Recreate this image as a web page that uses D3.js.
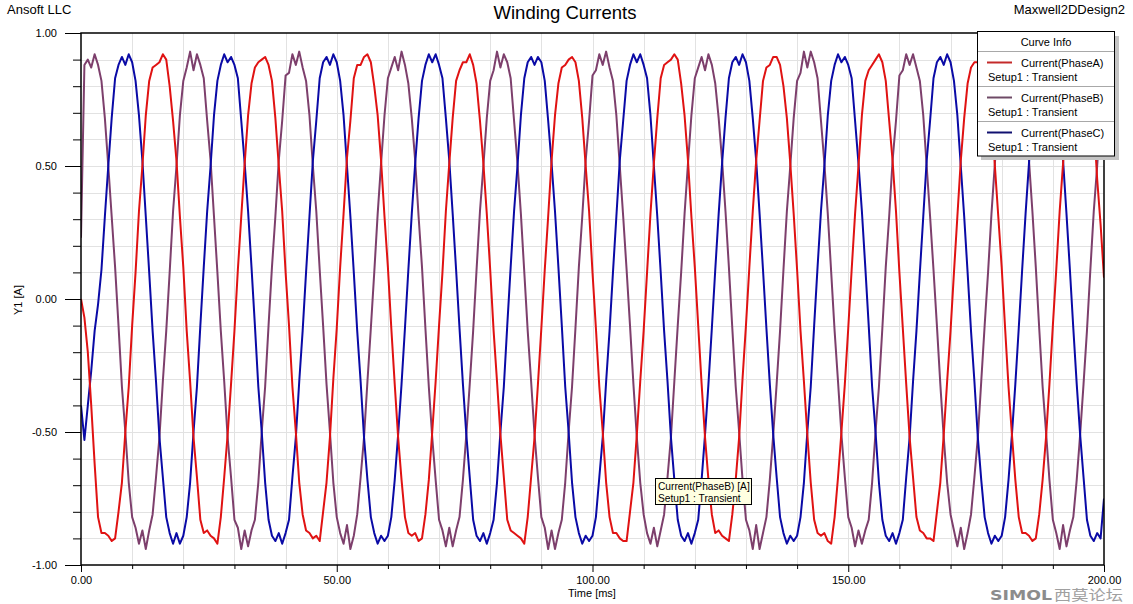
<!DOCTYPE html>
<html>
<head>
<meta charset="utf-8">
<script src="https://cdn.jsdelivr.net/npm/d3@7"></script>
<style>
  html, body { margin: 0; padding: 0; background: #fff; }
  svg { display: block; font-family: "Liberation Sans", Arial, sans-serif; }
</style>
</head>
<body>
<svg id="chart" width="1133" height="604"></svg>
<script>
// ---------------- DATA ----------------
const chartTitle = "Winding Currents";
const xDomainMs = [0, 200];
const yDomainA = [-1, 1];
const sampleCount = 301;            // samples from 0 to 200 ms
const xMajorTicks = [0, 50, 100, 150, 200];
const xTickLabels = ["0.00", "50.00", "100.00", "150.00", "200.00"];
const xMinorTicks = [10, 20, 30, 40, 60, 70, 80, 90, 110, 120, 130, 140, 160, 170, 180, 190];
const yMajorTicks = [-1, -0.5, 0, 0.5, 1];
const yTickLabels = ["-1.00", "-0.50", "0.00", "0.50", "1.00"];
const yMinorTicks = [-0.9, -0.8, -0.7, -0.6, -0.4, -0.3, -0.2, -0.1, 0.1, 0.2, 0.3, 0.4, 0.6, 0.7, 0.8, 0.9];
const seriesNames = ["Current(PhaseA)", "Current(PhaseB)", "Current(PhaseC)"];
const seriesSetup = ["Setup1 : Transient", "Setup1 : Transient", "Setup1 : Transient"];

const phaseA = [
  0.00, -0.07, -0.20, -0.40, -0.62, -0.82, -0.88, -0.88, -0.89, -0.91, -0.90, -0.80, -0.69, -0.50, -0.33, -0.10, 0.10, 0.33, 0.50, 0.69, 0.82, 0.87, 0.88, 0.89, 0.92, 0.90, 0.80, 0.67, 0.52, 0.31,
  0.12, -0.12, -0.31, -0.52, -0.67, -0.83, -0.88, -0.87, -0.89, -0.90, -0.92, -0.82, -0.67, -0.51, -0.32, -0.12, 0.11, 0.31, 0.51, 0.69, 0.81, 0.87, 0.89, 0.90, 0.91, 0.88, 0.82, 0.68, 0.50, 0.33,
  0.10, -0.10, -0.33, -0.50, -0.69, -0.81, -0.87, -0.88, -0.90, -0.89, -0.91, -0.80, -0.69, -0.52, -0.30, -0.11, 0.12, 0.32, 0.53, 0.67, 0.83, 0.88, 0.88, 0.91, 0.92, 0.89, 0.80, 0.69, 0.52, 0.31,
  0.12, -0.11, -0.32, -0.52, -0.68, -0.82, -0.88, -0.89, -0.88, -0.91, -0.90, -0.81, -0.68, -0.50, -0.31, -0.10, 0.10, 0.33, 0.51, 0.68, 0.82, 0.86, 0.89, 0.89, 0.92, 0.88, 0.81, 0.67, 0.51, 0.32,
  0.11, -0.12, -0.31, -0.51, -0.67, -0.83, -0.87, -0.88, -0.89, -0.90, -0.92, -0.82, -0.67, -0.52, -0.32, -0.11, 0.11, 0.31, 0.52, 0.69, 0.81, 0.87, 0.88, 0.90, 0.91, 0.89, 0.82, 0.68, 0.50, 0.33,
  0.10, -0.11, -0.33, -0.50, -0.69, -0.82, -0.88, -0.88, -0.90, -0.91, -0.91, -0.80, -0.69, -0.51, -0.31, -0.12, 0.10, 0.32, 0.51, 0.68, 0.83, 0.88, 0.89, 0.90, 0.92, 0.90, 0.81, 0.69, 0.52, 0.31,
  0.12, -0.10, -0.32, -0.52, -0.68, -0.81, -0.88, -0.87, -0.89, -0.90, -0.91, -0.81, -0.68, -0.52, -0.30, -0.10, 0.12, 0.33, 0.52, 0.67, 0.82, 0.87, 0.88, 0.91, 0.91, 0.88, 0.80, 0.68, 0.51, 0.32,
  0.11, -0.12, -0.31, -0.51, -0.69, -0.83, -0.88, -0.89, -0.88, -0.91, -0.92, -0.82, -0.67, -0.50, -0.32, -0.11, 0.11, 0.32, 0.50, 0.69, 0.82, 0.86, 0.88, 0.90, 0.92, 0.89, 0.82, 0.67, 0.52, 0.33,
  0.10, -0.11, -0.32, -0.52, -0.67, -0.82, -0.87, -0.88, -0.90, -0.90, -0.91, -0.80, -0.69, -0.51, -0.31, -0.12, 0.10, 0.31, 0.52, 0.68, 0.81, 0.87, 0.89, 0.89, 0.92, 0.88, 0.81, 0.68, 0.50, 0.31,
  0.12, -0.11, -0.33, -0.51, -0.68, -0.82, -0.88, -0.88, -0.89, -0.91, -0.90, -0.81, -0.68, -0.52, -0.32, -0.10, 0.11, 0.33, 0.51, 0.69, 0.83, 0.88, 0.88, 0.90, 0.91, 0.89, 0.80, 0.67, 0.45, 0.28,
  0.08
];

const phaseB = [
  0.23, 0.88, 0.90, 0.87, 0.92, 0.88, 0.82, 0.68, 0.50, 0.31, 0.12, -0.10, -0.33, -0.50, -0.69, -0.82, -0.86, -0.92, -0.87, -0.94, -0.87, -0.81, -0.67, -0.52, -0.31, -0.12, 0.10, 0.33, 0.50, 0.69,
  0.82, 0.87, 0.93, 0.86, 0.92, 0.88, 0.83, 0.67, 0.52, 0.31, 0.10, -0.12, -0.31, -0.52, -0.67, -0.83, -0.86, -0.94, -0.87, -0.93, -0.87, -0.83, -0.69, -0.50, -0.33, -0.10, 0.12, 0.31, 0.52, 0.67,
  0.84, 0.85, 0.92, 0.88, 0.93, 0.87, 0.82, 0.69, 0.50, 0.33, 0.11, -0.10, -0.32, -0.50, -0.69, -0.82, -0.88, -0.92, -0.85, -0.94, -0.89, -0.81, -0.67, -0.52, -0.31, -0.11, 0.10, 0.32, 0.51, 0.69,
  0.83, 0.87, 0.91, 0.86, 0.93, 0.88, 0.81, 0.68, 0.52, 0.31, 0.12, -0.11, -0.33, -0.52, -0.68, -0.83, -0.87, -0.93, -0.86, -0.93, -0.87, -0.82, -0.68, -0.51, -0.32, -0.12, 0.11, 0.33, 0.50, 0.68,
  0.82, 0.86, 0.93, 0.87, 0.92, 0.89, 0.83, 0.67, 0.51, 0.32, 0.10, -0.12, -0.31, -0.51, -0.67, -0.82, -0.86, -0.94, -0.87, -0.94, -0.88, -0.83, -0.69, -0.50, -0.33, -0.11, 0.12, 0.31, 0.52, 0.67,
  0.84, 0.86, 0.92, 0.88, 0.93, 0.87, 0.82, 0.69, 0.50, 0.31, 0.11, -0.10, -0.32, -0.52, -0.69, -0.81, -0.88, -0.92, -0.86, -0.93, -0.87, -0.81, -0.67, -0.52, -0.31, -0.10, 0.10, 0.32, 0.51, 0.69,
  0.83, 0.87, 0.91, 0.86, 0.92, 0.88, 0.81, 0.68, 0.52, 0.33, 0.12, -0.11, -0.33, -0.50, -0.68, -0.83, -0.87, -0.94, -0.85, -0.94, -0.88, -0.82, -0.68, -0.51, -0.32, -0.12, 0.11, 0.33, 0.50, 0.68,
  0.82, 0.85, 0.93, 0.87, 0.93, 0.89, 0.83, 0.67, 0.51, 0.32, 0.10, -0.12, -0.31, -0.51, -0.67, -0.82, -0.86, -0.93, -0.87, -0.92, -0.87, -0.83, -0.69, -0.50, -0.33, -0.11, 0.12, 0.31, 0.52, 0.67,
  0.84, 0.86, 0.92, 0.88, 0.92, 0.87, 0.82, 0.69, 0.50, 0.31, 0.11, -0.10, -0.32, -0.52, -0.69, -0.81, -0.87, -0.93, -0.86, -0.94, -0.88, -0.81, -0.67, -0.52, -0.31, -0.10, 0.10, 0.32, 0.51, 0.69,
  0.83, 0.87, 0.92, 0.86, 0.93, 0.88, 0.81, 0.68, 0.52, 0.33, 0.12, -0.11, -0.33, -0.50, -0.68, -0.83, -0.88, -0.94, -0.85, -0.93, -0.87, -0.82, -0.68, -0.51, -0.32, -0.12, 0.11, 0.33, 0.50, 0.68,
  0.82
];

const phaseC = [
  -0.40, -0.53, -0.40, -0.27, -0.12, -0.02, 0.11, 0.31, 0.50, 0.68, 0.83, 0.88, 0.91, 0.88, 0.92, 0.89, 0.82, 0.69, 0.52, 0.31, 0.10, -0.12, -0.31, -0.52, -0.67, -0.82, -0.88, -0.92, -0.88, -0.92,
  -0.89, -0.82, -0.69, -0.50, -0.33, -0.10, 0.12, 0.33, 0.50, 0.69, 0.82, 0.88, 0.92, 0.89, 0.91, 0.88, 0.83, 0.67, 0.51, 0.33, 0.12, -0.10, -0.33, -0.50, -0.69, -0.83, -0.89, -0.91, -0.88, -0.92,
  -0.88, -0.83, -0.67, -0.52, -0.31, -0.12, 0.10, 0.31, 0.52, 0.67, 0.83, 0.89, 0.91, 0.88, 0.92, 0.89, 0.82, 0.69, 0.50, 0.31, 0.10, -0.12, -0.31, -0.52, -0.68, -0.82, -0.88, -0.92, -0.89, -0.91,
  -0.89, -0.82, -0.68, -0.51, -0.32, -0.11, 0.11, 0.32, 0.51, 0.68, 0.82, 0.88, 0.92, 0.89, 0.92, 0.88, 0.83, 0.68, 0.52, 0.32, 0.11, -0.11, -0.32, -0.51, -0.67, -0.83, -0.89, -0.91, -0.88, -0.92,
  -0.88, -0.83, -0.69, -0.50, -0.33, -0.10, 0.12, 0.33, 0.50, 0.69, 0.83, 0.89, 0.91, 0.88, 0.91, 0.89, 0.82, 0.67, 0.51, 0.33, 0.12, -0.10, -0.33, -0.50, -0.69, -0.82, -0.88, -0.92, -0.89, -0.91,
  -0.89, -0.82, -0.67, -0.52, -0.31, -0.12, 0.10, 0.31, 0.52, 0.67, 0.82, 0.88, 0.92, 0.89, 0.92, 0.88, 0.83, 0.69, 0.50, 0.31, 0.10, -0.12, -0.31, -0.52, -0.68, -0.83, -0.89, -0.91, -0.88, -0.92,
  -0.88, -0.83, -0.68, -0.51, -0.32, -0.11, 0.11, 0.32, 0.51, 0.68, 0.83, 0.89, 0.91, 0.88, 0.92, 0.89, 0.82, 0.68, 0.52, 0.32, 0.11, -0.11, -0.32, -0.51, -0.67, -0.82, -0.88, -0.92, -0.89, -0.91,
  -0.89, -0.82, -0.69, -0.50, -0.33, -0.10, 0.12, 0.33, 0.50, 0.69, 0.82, 0.88, 0.92, 0.89, 0.91, 0.88, 0.83, 0.67, 0.51, 0.33, 0.12, -0.10, -0.33, -0.50, -0.69, -0.83, -0.89, -0.91, -0.88, -0.92,
  -0.88, -0.83, -0.67, -0.52, -0.31, -0.12, 0.10, 0.31, 0.52, 0.67, 0.83, 0.89, 0.91, 0.88, 0.92, 0.89, 0.82, 0.69, 0.50, 0.31, 0.10, -0.12, -0.31, -0.52, -0.68, -0.82, -0.88, -0.92, -0.89, -0.91,
  -0.89, -0.82, -0.68, -0.51, -0.32, -0.11, 0.11, 0.32, 0.51, 0.68, 0.82, 0.88, 0.92, 0.89, 0.92, 0.88, 0.83, 0.68, 0.52, 0.32, 0.11, -0.11, -0.32, -0.51, -0.67, -0.83, -0.89, -0.91, -0.88, -0.90,
  -0.75
];

// ---------------- STYLE ----------------
const seriesColors = ["#e01212", "#7d3f6c", "#0a0aa6"];
const legendLineColors = ["#c42a2a", "#6e4a66", "#101070"];
const W = 1133, H = 604;
const plot = { left: 81, right: 1104, top: 33, bottom: 565 };
const font = "'Liberation Sans', Arial, sans-serif";

const svg = d3.select("#chart");
const x = d3.scaleLinear().domain(xDomainMs).range([plot.left, plot.right]);
const y = d3.scaleLinear().domain(yDomainA).range([plot.bottom, plot.top]);
const sampleIndex = d3.scaleLinear().domain([0, sampleCount - 1]).range(xDomainMs);

svg.append("rect").attr("width", W).attr("height", H).attr("fill", "#fff");

// grid
const grid = svg.append("g").attr("stroke", "#e2e2e2").attr("stroke-width", 1).attr("shape-rendering", "crispEdges");
grid.selectAll(".gx").data(xMinorTicks.concat(xMajorTicks.slice(1, -1))).join("line")
  .attr("x1", d => Math.round(x(d)) + 0.5).attr("x2", d => Math.round(x(d)) + 0.5)
  .attr("y1", plot.top).attr("y2", plot.bottom);
grid.selectAll(".gy").data(yMinorTicks.concat([-0.5, 0, 0.5])).join("line")
  .attr("y1", d => Math.round(y(d)) + 0.5).attr("y2", d => Math.round(y(d)) + 0.5)
  .attr("x1", plot.left).attr("x2", plot.right);

// curves
svg.append("clipPath").attr("id", "clip").append("rect")
  .attr("x", plot.left).attr("y", plot.top)
  .attr("width", plot.right - plot.left).attr("height", plot.bottom - plot.top);
const line = d3.line().x((d, i) => x(sampleIndex(i))).y(d => y(d));
const curves = svg.append("g").attr("clip-path", "url(#clip)");
const allSeries = [phaseA, phaseB, phaseC];
[1, 2, 0].forEach(k => {
  curves.append("path").datum(allSeries[k])
    .attr("d", line).attr("fill", "none")
    .attr("stroke", seriesColors[k]).attr("stroke-width", 2)
    .attr("stroke-linejoin", "round");
});

// axes
const axisStyle = g => {
  g.selectAll("path.domain").remove();
  g.selectAll("line").attr("stroke", "#000").attr("stroke-width", 1);
  g.selectAll("text").attr("font-family", font).attr("font-size", 11).attr("fill", "#000");
};
svg.append("g").attr("transform", `translate(${plot.left},0)`)
  .call(d3.axisLeft(y).tickValues(yMajorTicks).tickSize(16).tickPadding(8)
    .tickFormat((d, i) => yTickLabels[i])).call(axisStyle);
svg.append("g").attr("transform", `translate(${plot.left},0)`)
  .call(d3.axisLeft(y).tickValues(yMinorTicks).tickSize(8).tickFormat("")).call(axisStyle);
svg.append("g").attr("transform", `translate(0,${plot.bottom})`)
  .call(d3.axisBottom(x).tickValues(xMajorTicks).tickSize(7).tickPadding(4)
    .tickFormat((d, i) => xTickLabels[i])).call(axisStyle);
svg.append("g").attr("transform", `translate(0,${plot.bottom})`)
  .call(d3.axisBottom(x).tickValues(xMinorTicks).tickSize(4).tickFormat("")).call(axisStyle);

// frame
svg.append("rect").attr("x", plot.left).attr("y", plot.top)
  .attr("width", plot.right - plot.left).attr("height", plot.bottom - plot.top)
  .attr("fill", "none").attr("stroke", "#000").attr("stroke-width", 1.5);

// titles
svg.append("text").attr("x", 7).attr("y", 14).attr("font-family", font).attr("font-size", 13).text("Ansoft LLC");
svg.append("text").attr("x", 1125).attr("y", 14).attr("text-anchor", "end").attr("font-family", font).attr("font-size", 13).text("Maxwell2DDesign2");
svg.append("text").attr("x", 565).attr("y", 19).attr("text-anchor", "middle").attr("font-family", font).attr("font-size", 18.5).text(chartTitle);
svg.append("text").attr("x", 592).attr("y", 597).attr("text-anchor", "middle").attr("font-family", font).attr("font-size", 11).text("Time [ms]");
svg.append("text").attr("transform", "translate(22,300) rotate(-90)").attr("text-anchor", "middle").attr("font-family", font).attr("font-size", 11).text("Y1 [A]");

// legend
const lg = svg.append("g");
lg.append("rect").attr("x", 981).attr("y", 36).attr("width", 138).attr("height", 124).attr("fill", "#c4c4c4");
lg.append("rect").attr("x", 977.5).attr("y", 31.5).attr("width", 137).attr("height", 124.5).attr("fill", "#fff").attr("stroke", "#000").attr("stroke-width", 1);
lg.append("text").attr("x", 1046).attr("y", 46).attr("text-anchor", "middle").attr("font-family", font).attr("font-size", 11).text("Curve Info");
seriesNames.forEach((name, i) => {
  const top = 51.5 + i * 35;
  lg.append("line").attr("x1", 978).attr("x2", 1114).attr("y1", top).attr("y2", top).attr("stroke", "#a8a8a8");
  lg.append("line").attr("x1", 987).attr("x2", 1012).attr("y1", top + 11).attr("y2", top + 11)
    .attr("stroke", legendLineColors[i]).attr("stroke-width", 2);
  lg.append("text").attr("x", 1021).attr("y", top + 15).attr("font-family", font).attr("font-size", 11).text(name);
  lg.append("text").attr("x", 988).attr("y", top + 29).attr("font-family", font).attr("font-size", 11).text(seriesSetup[i]);
});

// tooltip annotation
const tip = svg.append("g");
tip.append("rect").attr("x", 655.5).attr("y", 478.5).attr("width", 96).attr("height", 26).attr("fill", "#ffffe1").attr("stroke", "#000");
tip.append("text").attr("x", 658).attr("y", 489.5).attr("font-family", font).attr("font-size", 10.2).text("Current(PhaseB) [A]");
tip.append("text").attr("x", 658).attr("y", 502).attr("font-family", font).attr("font-size", 10.2).text(seriesSetup[1]);

// watermark
svg.append("text").attr("x", 990).attr("y", 600).attr("font-family", "'DejaVu Sans', sans-serif").attr("font-weight", "bold")
  .attr("font-size", 14).attr("fill", "#8c8c8c").attr("textLength", 62).attr("lengthAdjust", "spacingAndGlyphs").text("SIMOL");
svg.append("text").attr("x", 1054).attr("y", 600).attr("font-family", "'Noto Sans CJK SC', sans-serif")
  .attr("font-size", 14).attr("fill", "#a0a0a0").attr("textLength", 69).attr("lengthAdjust", "spacingAndGlyphs").text("西莫论坛");
</script>
</body>
</html>
